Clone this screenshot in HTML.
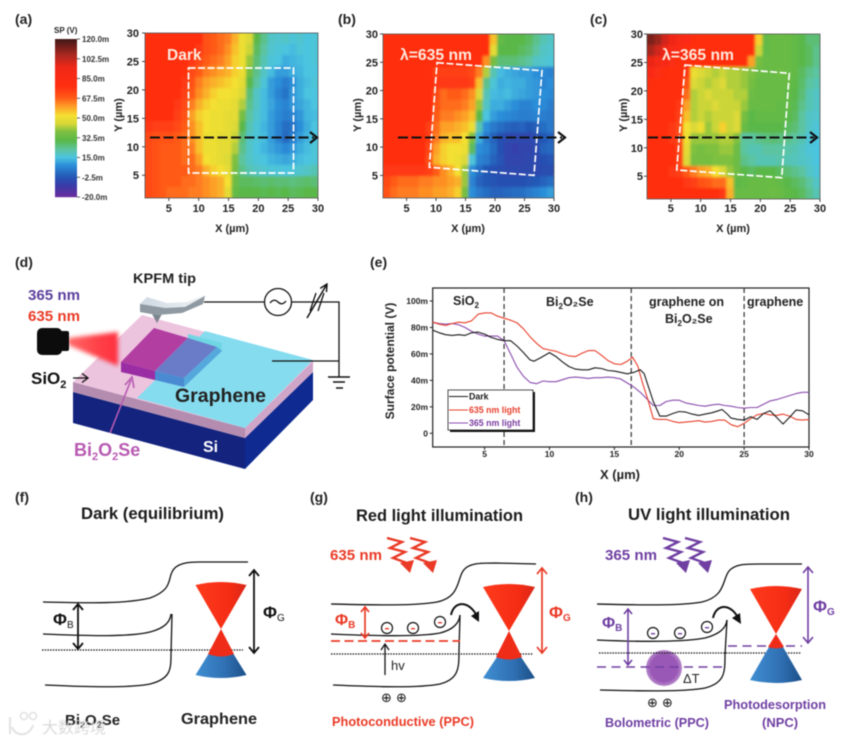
<!DOCTYPE html>
<html lang="en">
<head>
<meta charset="utf-8">
<title>KPFM surface potential figure</title>
<style>
html,body{margin:0;padding:0;background:#fff;width:844px;height:741px;overflow:hidden}
svg{display:block;filter:blur(0.45px)}
text{font-family:"Liberation Sans","Noto Sans CJK SC",sans-serif}
.pl{font-size:14px;font-weight:bold;fill:#222}
.tk{font-size:11px;font-weight:bold;fill:#222}
.ttl{font-size:16.5px;font-weight:bold;fill:#1c1c1c}
</style>
</head>
<body>
<svg id="fig" xmlns="http://www.w3.org/2000/svg" width="844" height="741" viewBox="0 0 844 741">
<defs>
<filter id="mapBlur" x="-5%" y="-5%" width="110%" height="110%"><feGaussianBlur stdDeviation="1.3"/></filter>
<filter id="softBlur" x="-20%" y="-20%" width="140%" height="140%"><feGaussianBlur stdDeviation="2"/></filter>
<clipPath id="clipA"><rect x="145" y="33" width="173" height="165"/></clipPath>
<clipPath id="clipB"><rect x="383" y="34" width="171" height="164"/></clipPath>
<clipPath id="clipC"><rect x="647" y="34" width="173" height="165"/></clipPath>
<linearGradient id="beam" x1="0" y1="0" x2="1" y2="0"><stop offset="0" stop-color="#ff6a6a"/><stop offset="0.6" stop-color="#ff4048"/><stop offset="1" stop-color="#ff3040"/></linearGradient>
<linearGradient id="blueCone" x1="0" y1="0" x2="1" y2="0"><stop offset="0" stop-color="#3f8fd2"/><stop offset="0.6" stop-color="#2f6fb2"/><stop offset="1" stop-color="#1c4f88"/></linearGradient>
<linearGradient id="redCone" x1="0" y1="0" x2="1" y2="0"><stop offset="0" stop-color="#ff3a1c"/><stop offset="0.7" stop-color="#f42c14"/><stop offset="1" stop-color="#d8281a"/></linearGradient>
<linearGradient id="tipTop" x1="0" y1="0" x2="1" y2="0"><stop offset="0" stop-color="#cfd9e2"/><stop offset="1" stop-color="#eef2f5"/></linearGradient>
<radialGradient id="ballGrad"><stop offset="0.75" stop-color="#9a58b6"/><stop offset="1" stop-color="#b88ccb"/></radialGradient>
<path id="wiggle" d="M0 0 L15 4 L3 10 L18 14 L6 20 L20 25" fill="none" stroke="currentColor" stroke-width="2.4"/>
<path id="wiggleHead" d="M23 35 L13 25 L27 22 Z" fill="currentColor"/>
<marker id="smallHead" viewBox="0 0 10 10" refX="9" refY="5" markerWidth="6" markerHeight="6" orient="auto"><path d="M1 1 L9 5 L1 9" fill="none" stroke="context-stroke" stroke-width="1.6"/></marker>
</defs>
<rect width="844" height="741" fill="#fff"/>

<text class="pl" x="15" y="24">(a)</text>
<text class="pl" x="338" y="24">(b)</text>
<text class="pl" x="590" y="24">(c)</text>
<text class="pl" x="15" y="267">(d)</text>
<text class="pl" x="370" y="267">(e)</text>
<text class="pl" x="15" y="502">(f)</text>
<text class="pl" x="310" y="502">(g)</text>
<text class="pl" x="575" y="502">(h)</text>

<g id="maps"></g>
<g id="colorbar"></g>

<g>
<text x="167" y="60" font-size="15.5" font-weight="bold" fill="#ffe9dd">Dark</text>
<text x="400" y="60" font-size="15.5" font-weight="bold" fill="#ffe9dd" textLength="72" lengthAdjust="spacingAndGlyphs">λ=635 nm</text>
<text x="662" y="60" font-size="15.5" font-weight="bold" fill="#ffe9dd" textLength="72" lengthAdjust="spacingAndGlyphs">λ=365 nm</text>
<polygon points="188.5,68 293.5,68 293.5,173 188.5,173" fill="none" stroke="#fff" stroke-width="1.7" stroke-dasharray="7 2.5"/>
<polygon points="437,62.7 542,70.7 534,175.3 429.3,167.3" fill="none" stroke="#fff" stroke-width="1.7" stroke-dasharray="7 2.5"/>
<polygon points="685,65 789.3,73.3 781.7,177.7 676.7,170" fill="none" stroke="#fff" stroke-width="1.7" stroke-dasharray="7 2.5"/>
<g stroke="#111" fill="none">
<path d="M150 137.5 H314" stroke-width="2" stroke-dasharray="10 3.5"/><path d="M310 132 L317 137.5 L310 143" stroke-width="2.2"/>
<path d="M398 137.5 H562" stroke-width="2" stroke-dasharray="10 3.5"/><path d="M558 132 L565 137.5 L558 143" stroke-width="2.2"/>
<path d="M648 137.5 H814" stroke-width="2" stroke-dasharray="10 3.5"/><path d="M810 132 L817 137.5 L810 143" stroke-width="2.2"/>
</g>
</g>

<g>
<polygon points="73,392 245,438 245,469 73,423" fill="#13237e"/>
<polygon points="245,438 313,372 313,400 245,469" fill="#0f2a90"/>
<polygon points="73,382 245,428 245,438 73,392" fill="#b48cb0"/>
<polygon points="245,428 313,361 313,372 245,438" fill="#cfa5c8"/>
<polygon points="73,382 142,315 313,361 245,428" fill="#ecc4de"/>
<polygon points="205,331 313,360 245,428 137,398" fill="#86dcef"/>
<polygon points="68,338 118,332 118,366 68,345" fill="url(#beam)" filter="url(#softBlur)"/>
<polygon points="154,328 188,338 155,371 121,362" fill="#b23ea2"/>
<polygon points="121,362 155,371 155,380 121,372" fill="#9a2ca4"/>
<polygon points="188,334 222,343 222,351 217,347 188,338" fill="#6fd6e4"/>
<polygon points="188,338 217,347 184,378 155,371" fill="#6a7cc8"/>
<polygon points="155,371 184,378 184,387 155,380" fill="#4a8ad2"/>
<polygon points="217,347 222,351 184,387 184,378" fill="#55a8dc"/>
<g><rect x="37" y="328" width="25" height="27" rx="5" fill="#0c0c0c"/><rect x="58" y="331" width="11" height="20" rx="2" fill="#0c0c0c"/></g>
<g>
<polygon points="152,314 162,314 157,323" fill="#7b858d"/>
<polygon points="140,304 147,297 167,303 187,302 205,295 203,304 182,313 157,315 140,312" fill="url(#tipTop)"/>
<polygon points="140,304 165,308 185,307 205,296 203,304 182,313 157,315 140,312" fill="#8f99a1"/>
</g>
<g fill="none" stroke="#111" stroke-width="1.3">
<path d="M204 302 H264 M292 302 H339 V377 M272 361 H339"/>
<circle cx="278" cy="302" r="13.5" fill="#fff"/>
<path d="M270 303 Q274 298 278 302 T286 301"/>
<path d="M310 311 L316 293 M318 311 L324 293"/>
<path d="M307 318 L327 284" marker-end="url(#smallHead)" stroke-width="1.5"/>
<path d="M328 377 H350 M333 382 H345 M336 388 H343" stroke-width="1.5"/>
</g>
<text x="133" y="283" font-size="14" font-weight="bold" fill="#222" textLength="63" lengthAdjust="spacingAndGlyphs">KPFM tip</text>
<text x="28" y="300" font-size="14.5" font-weight="bold" fill="#5b3f9c" textLength="52" lengthAdjust="spacingAndGlyphs">365 nm</text>
<text x="28" y="321" font-size="14.5" font-weight="bold" fill="#ea3a26" textLength="52" lengthAdjust="spacingAndGlyphs">635 nm</text>
<text x="31" y="384" font-size="17" font-weight="bold" fill="#111">SiO<tspan font-size="11" dy="4">2</tspan></text>
<path d="M73 378 H87 M82 373.5 L88 378 L82 382.5" fill="none" stroke="#111" stroke-width="1.3"/>
<text x="175" y="402" font-size="19.5" font-weight="bold" fill="#222" textLength="91" lengthAdjust="spacingAndGlyphs">Graphene</text>
<text x="203" y="452" font-size="16" font-weight="bold" fill="#fff">Si</text>
<text x="74" y="456" font-size="18" font-weight="bold" fill="#b85ab2">Bi<tspan font-size="11" dy="4">2</tspan><tspan dy="-4">O</tspan><tspan font-size="11" dy="4">2</tspan><tspan dy="-4">Se</tspan></text>
<path d="M110 433 L131 380 M125 385 L132 377 L134 388" fill="none" stroke="#b85ab2" stroke-width="1.6"/>
</g>

<g id="profile"></g>

<g>
<text class="ttl" x="81" y="519" textLength="143" lengthAdjust="spacingAndGlyphs">Dark (equilibrium)</text>
<g fill="none" stroke="#111" stroke-width="1.3">
<path d="M43 602 C90 603 125 604 150 598 C172 590 168 580 172 572 C176 563 188 562 200 562 L248 562"/>
<path d="M43 634 C90 636 130 637 150 632 C165 628 170 622 171 614"/>
<path d="M45 685 C90 687 130 688 150 684 C170 679 171 670 171 655 L172 614"/>
<path d="M42 650 H243" stroke-dasharray="1.5 1.2" stroke-width="1.2"/>
</g>
<g stroke="#111" stroke-width="1.8" fill="none">
<path d="M78 604 V649 M73 610 L78 604 L83 610 M73 643 L78 649 L83 643"/>
<path d="M254 570 V653 M249 576 L254 570 L259 576 M249 647 L254 653 L259 647"/>
</g>
<text x="53" y="625" font-size="17" font-weight="bold" fill="#111">Φ<tspan font-size="10" dy="3" font-weight="normal">B</tspan></text>
<text x="263" y="618" font-size="17" font-weight="bold" fill="#111">Φ<tspan font-size="10" dy="3" font-weight="normal">G</tspan></text>
<g>
<path d="M195.5 675 L208.5 654 H233.5 L246.5 675 Q221 681 195.5 675 Z" fill="url(#blueCone)"/>
<path d="M221 629 L208 654 Q221 659 234 654 Z" fill="#ef2c18"/>
<path d="M195.5 585 Q221 579 246.5 585 L221 629 Z" fill="url(#redCone)"/>
</g>
<text x="65" y="725" font-size="15" font-weight="bold" fill="#222">Bi<tspan font-size="9" dy="3">2</tspan><tspan dy="-3">O</tspan><tspan font-size="9" dy="3">2</tspan><tspan dy="-3">Se</tspan></text>
<text x="181" y="724" font-size="16" font-weight="bold" fill="#222" textLength="76" lengthAdjust="spacingAndGlyphs">Graphene</text>
</g>

<g>
<text class="ttl" x="356" y="521" textLength="167" lengthAdjust="spacingAndGlyphs">Red light illumination</text>
<text x="330" y="560" font-size="14.5" font-weight="bold" fill="#ea3a26" textLength="52" lengthAdjust="spacingAndGlyphs">635 nm</text>
<g color="#ea3a26">
<use href="#wiggle" x="387" y="538"/><use href="#wiggleHead" x="387" y="538"/>
<use href="#wiggle" x="410" y="538"/><use href="#wiggleHead" x="410" y="538"/>
</g>
<g fill="none" stroke="#111" stroke-width="1.3">
<path d="M331 604 C375 605 415 606 437 602 C460 597 457 580 463 571 C468 563 480 563 495 563 L536 564"/>
<path d="M331 634 C375 636 420 637 440 633 C452 630 459 624 460 615"/>
<path d="M333 685 C380 687 420 688 440 684 C459 679 459 668 459 650 L460 615"/>
<path d="M331 654 H533" stroke-dasharray="1.5 1.2" stroke-width="1.2"/>
<path d="M385 675 V645 M381 650 L385 644 L389 650"/>
</g>
<path d="M331 641 H460" stroke="#ea3a26" stroke-width="1.8" stroke-dasharray="9 4.5"/>
<text x="391" y="670" font-size="13" fill="#222">hv</text>
<g stroke="#ea3a26" stroke-width="1.7" fill="none">
<path d="M365 607 V638 M361 612 L365 607 L369 612 M361 633 L365 638 L369 633"/>
<path d="M542 568 V653 M537 574 L542 568 L547 574 M537 647 L542 653 L547 647"/>
</g>
<text x="335" y="625" font-size="16" font-weight="bold" fill="#ea3a26">Φ<tspan font-size="10" dy="3">B</tspan></text>
<text x="549" y="618" font-size="17" font-weight="bold" fill="#ea3a26">Φ<tspan font-size="10" dy="3">G</tspan></text>
<g>
<path d="M483 678 L497 657 H521 L535 678 Q509 684 483 678 Z" fill="url(#blueCone)"/>
<path d="M509 631 L496 657 Q509 662 522 657 Z" fill="#ef2c18"/>
<path d="M483 587 Q509 581 535 587 L509 631 Z" fill="url(#redCone)"/>
</g>
<g fill="none" stroke="#111" stroke-width="1.2"><circle cx="387" cy="628" r="5.5"/><circle cx="413" cy="628" r="5.5"/><circle cx="440" cy="622" r="5.5"/></g>
<g fill="#ea3a26"><rect x="385" y="628" width="4" height="1.4"/><rect x="411" y="628" width="4" height="1.4"/><rect x="438" y="622" width="4" height="1.4"/></g>
<path d="M451 615 C454 600 470 600 478 618" fill="none" stroke="#111" stroke-width="2"/>
<path d="M479 622 L471 616 L479 611 Z" fill="#111"/>
<text x="381" y="702" font-size="13" fill="#111" style="font-family:'DejaVu Sans',sans-serif">⊕ ⊕</text>
<text x="332" y="726" font-size="13" font-weight="bold" fill="#ea3a26" textLength="142" lengthAdjust="spacingAndGlyphs">Photoconductive  (PPC)</text>
</g>

<g>
<text class="ttl" x="628" y="520" textLength="162" lengthAdjust="spacingAndGlyphs">UV light illumination</text>
<text x="605" y="560" font-size="14.5" font-weight="bold" fill="#6f3fa2" textLength="52" lengthAdjust="spacingAndGlyphs">365 nm</text>
<g color="#6f3fa2">
<use href="#wiggle" x="663" y="538"/><use href="#wiggleHead" x="663" y="538"/>
<use href="#wiggle" x="685" y="538"/><use href="#wiggleHead" x="685" y="538"/>
</g>
<circle cx="664" cy="668" r="18" fill="url(#ballGrad)"/>
<g fill="none" stroke="#111" stroke-width="1.3">
<path d="M597 604 C640 605 680 606 702 602 C726 596 722 580 729 571 C735 564 745 564 760 564 L802 564"/>
<path d="M597 640 C640 642 685 642 705 638 C720 634 726 628 727 620"/>
<path d="M600 690 C640 691 685 692 705 688 C725 683 725 672 725 655 L727 620"/>
<path d="M599 653 H801" stroke-dasharray="1.5 1.2" stroke-width="1.2"/>
</g>
<g stroke="#6f3fa2" stroke-width="1.6" fill="none">
<path d="M597 667 H726" stroke-dasharray="9 5.5"/>
<path d="M728 646 H802" stroke-dasharray="9 5.5"/>
<path d="M628 609 V665 M624 614 L628 609 L632 614 M624 660 L628 665 L632 660"/>
<path d="M808 567 V643 M803 573 L808 567 L813 573 M803 637 L808 643 L813 637"/>
</g>
<text x="683" y="683" font-size="13" fill="#222">ΔT</text>
<text x="602" y="628" font-size="16" font-weight="bold" fill="#6f3fa2">Φ<tspan font-size="10" dy="3">B</tspan></text>
<text x="813" y="612" font-size="17" font-weight="bold" fill="#6f3fa2">Φ<tspan font-size="10" dy="3">G</tspan></text>
<g>
<path d="M750 680 L769 647 H783 L802 680 Q776 686 750 680 Z" fill="url(#blueCone)"/>
<path d="M776 634 L768 647 Q776 650 784 647 Z" fill="#ef2c18"/>
<path d="M750 589 Q776 583 802 589 L776 634 Z" fill="url(#redCone)"/>
</g>
<g fill="none" stroke="#111" stroke-width="1.2"><circle cx="653" cy="633" r="5.5"/><circle cx="680" cy="633" r="5.5"/><circle cx="707" cy="627" r="5.5"/></g>
<g fill="#6f3fa2"><rect x="651" y="633" width="4" height="1.4"/><rect x="678" y="633" width="4" height="1.4"/><rect x="705" y="627" width="4" height="1.4"/></g>
<path d="M713 618 C716 603 732 603 739 620" fill="none" stroke="#111" stroke-width="2"/>
<path d="M741 624 L732 618 L740 613 Z" fill="#111"/>
<text x="647" y="707" font-size="13" fill="#111" style="font-family:'DejaVu Sans',sans-serif">⊕ ⊕</text>
<text x="605" y="727" font-size="13" font-weight="bold" fill="#6f3fa2" textLength="104" lengthAdjust="spacingAndGlyphs">Bolometric  (PPC)</text>
<text x="724" y="709" font-size="12.5" font-weight="bold" fill="#6f3fa2" textLength="102" lengthAdjust="spacingAndGlyphs">Photodesorption</text>
<text x="762" y="727" font-size="13" font-weight="bold" fill="#6f3fa2">(NPC)</text>
</g>

<g opacity="0.85">
<path d="M10 717 V734 M12 727 C16 738 30 736 33 725" fill="none" stroke="#ddd" stroke-width="2"/>
<circle cx="24" cy="716" r="3.5" fill="none" stroke="#ddd" stroke-width="1.6"/>
<circle cx="33" cy="716" r="3.5" fill="none" stroke="#ddd" stroke-width="1.6"/>
<text x="42" y="733" font-size="16" fill="#d4d4d4" style="font-family:'Liberation Sans','Noto Sans CJK SC',sans-serif">大数跨境</text>
</g>
</svg>

<script>
// Heatmap matrices: surface potential in mV, rows from Y≈29 µm down to Y≈2 µm, columns X≈1.6 to 29.4 µm
const darkMap = [
[78,78,78,78,78,78,78,78,70,68,66,64,58,50,46,30,24,18,17,18,16,17,15,16],
[78,78,78,78,78,78,78,76,70,68,66,62,56,50,44,28,22,17,16,15,14,16,15,16],
[78,78,78,78,78,78,76,72,68,66,64,60,54,50,40,26,20,16,15,12,13,14,15,16],
[78,78,78,78,78,77,72,68,64,62,60,58,54,50,36,24,18,14,10,10,12,13,15,15],
[78,78,78,78,78,76,70,64,60,58,56,54,52,48,30,22,16,10,8,5,8,12,14,16],
[78,78,78,78,78,74,68,62,58,54,52,52,50,46,26,18,14,10,6,3,9,12,15,15],
[78,78,78,78,76,72,64,58,54,52,50,50,48,42,24,18,14,11,8,6,9,11,13,15],
[78,78,78,78,74,70,60,54,52,50,50,48,48,36,22,17,14,10,7,5,6,9,13,14],
[76,74,74,74,72,68,62,56,52,50,50,48,46,30,20,16,13,10,6,2,3,8,12,15],
[72,70,70,70,68,66,62,56,50,50,48,48,44,26,18,16,14,10,6,1,5,10,13,15],
[72,70,68,68,68,66,64,56,50,50,48,48,42,24,18,15,13,11,9,7,9,12,14,16],
[72,70,68,68,68,66,66,60,52,50,48,46,38,22,18,16,15,13,12,11,12,14,15,16],
[72,70,68,68,68,68,66,64,58,54,52,48,36,24,20,18,17,16,16,15,16,17,18,20],
[72,70,68,68,68,66,66,64,62,60,58,52,34,28,28,27,26,27,26,26,25,26,27,26],
[72,70,68,66,66,66,64,64,62,60,58,48,32,30,30,30,29,30,29,30,28,29,30,30]
];
const redMap = [
[78,78,78,78,78,78,78,78,78,78,78,78,78,78,78,56,32,30,30,30,28,24,20,18],
[78,78,78,78,78,78,78,78,78,78,78,78,78,78,78,48,30,30,30,28,26,22,18,17],
[78,78,78,78,78,78,78,78,78,78,78,78,78,78,62,36,26,26,26,24,22,18,17,16],
[78,78,78,78,78,78,78,74,74,74,74,74,72,64,42,20,14,12,11,10,10,8,7,6],
[78,78,78,78,78,78,78,76,76,76,76,76,74,56,24,16,12,13,12,12,10,9,6,8],
[78,78,78,78,78,78,78,72,66,68,68,66,62,46,20,14,13,14,12,11,10,9,8,7],
[78,78,78,78,78,78,78,70,66,66,66,64,60,40,18,12,12,10,8,6,6,8,7,5],
[78,78,78,78,78,78,78,68,64,64,62,60,56,30,15,10,8,7,6,5,5,6,5,4],
[78,78,78,78,78,78,74,66,60,60,58,56,50,20,8,4,2,0,-1,0,-2,-1,2,4],
[78,78,78,78,78,78,74,64,58,56,56,52,38,12,4,0,-4,-6,-6,-6,-6,-5,-2,0],
[78,78,78,78,78,78,72,60,54,52,52,50,28,8,6,2,-4,-7,-8,-7,-7,-6,0,1],
[78,78,78,78,78,78,70,58,54,52,50,46,16,6,4,0,-3,-7,-7,-7,-6,-6,-4,-3],
[76,76,76,76,76,76,74,68,62,58,52,40,8,2,-2,-4,-5,-6,-6,-6,-6,-6,-5,-5],
[72,68,66,66,66,64,64,62,62,60,58,40,6,0,-2,-3,-4,-4,-4,-4,-3,-2,0,2],
[70,66,64,64,64,62,62,60,60,58,54,36,8,4,2,0,0,1,2,2,4,6,8,10]
];
const uvMap = [
[112,108,100,94,88,84,80,78,78,78,78,78,78,78,78,54,32,33,33,33,32,30,26,26],
[106,100,94,88,84,80,78,78,78,78,78,78,78,78,78,44,32,33,33,33,32,30,28,24],
[96,90,86,82,78,78,78,78,78,78,78,78,78,78,60,36,33,33,33,33,32,30,28,24],
[86,82,80,78,78,76,50,46,44,42,44,42,42,40,38,34,33,33,34,33,32,28,24,22],
[80,78,78,78,78,70,46,44,42,44,46,42,42,40,36,33,33,33,33,33,31,27,22,20],
[78,78,78,78,78,66,42,44,46,44,44,44,42,42,34,33,33,33,33,32,30,26,20,18],
[78,78,78,78,76,60,42,44,44,46,44,44,44,40,33,33,33,33,32,32,29,24,20,18],
[78,78,78,78,74,56,42,44,42,44,44,44,46,36,30,32,32,32,32,30,28,22,18,17],
[78,78,78,76,72,52,46,50,40,44,54,44,46,33,30,30,30,30,30,28,26,22,18,16],
[78,78,78,76,72,50,40,40,40,40,42,42,38,22,22,24,25,26,25,24,22,20,16,15],
[78,78,78,78,74,48,38,36,38,38,40,40,34,22,20,20,22,22,22,21,20,18,16,15],
[78,78,78,78,74,46,36,36,36,38,38,38,34,24,22,20,20,20,21,20,19,18,17,15],
[78,78,78,76,74,68,64,60,58,52,46,40,34,30,28,30,30,30,28,26,24,22,18,16],
[78,78,78,78,78,76,74,70,68,66,66,56,31,32,33,33,33,33,32,30,28,26,22,18],
[78,78,78,78,78,78,78,78,78,78,76,58,33,33,33,33,33,34,33,31,30,28,24,20]
];
const mapTicks = [5,10,15,20,25,30];
const colorbarLabels = ["120.0m","102.5m","85.0m","67.5m","50.0m","32.5m","15.0m","-2.5m","-20.0m"];
const colorbarValues = [120,102.5,85,67.5,50,32.5,15,-2.5,-20];

// Line profile data (X in µm, surface potential in mV)
const darkX = [1,1.5,2,2.5,3,3.5,4,4.5,5,5.5,6,6.5,7,7.5,8,8.5,8.8,9.3,10,10.5,11,11.5,12,12.5,13,13.5,14,14.5,15,15.5,16,16.5,17,17.3,17.6,18,18.5,19,19.5,20,20.5,21,21.5,22,22.5,23,23.3,23.7,24,24.5,25,25.5,26,26.5,27,27.5,28,28.5,29,29.5,30];
const darkV = [78,76,74.5,74,74.5,74,76,76.5,75,72.5,71,70,70,66,61,55.5,54.5,57,61,58,54,50.5,48.5,48,48,49.5,49,47.5,47,46,45,46,48,45,36,24,13,13,15,16.5,16,14.5,13.5,14.5,15.5,17,18,14.5,11.5,10.5,10,12.5,10.5,15,17,12,7,12,17.5,17,14];
const redX = [1,1.5,2,2.5,3,3.5,4,4.5,5,5.5,6,6.5,7,7.5,8,8.5,9,9.5,10,10.5,11,11.5,12,12.5,13,13.5,14,14.5,15,15.5,16,16.4,16.8,17.2,17.6,18,18.4,19,19.5,20,20.5,21,21.5,22,22.5,23,23.5,24,24.5,25,25.5,26,26.5,27,27.5,28,28.5,29,29.5,30];
const redV = [84,82.5,81.5,83,84,83.5,85,90,91,91,88.5,87,85.5,83.5,79,73,68,64,63,62,60,58.5,58,60.5,62.5,62.5,59,55,52.5,52,54.5,57.5,51,37,25,11,10.5,10.5,9,8,8.5,9,9.5,8.5,9,10,10,6.5,5,7.5,11,14,15,14,13.5,14.5,13,10.5,10,10.5];
const uvX = [1,1.5,2,2.5,3,3.5,4,4.5,5,5.5,6,6.5,7,7.5,8,8.5,9,9.5,10,10.5,11,11.5,12,12.5,13,13.5,14,14.5,15,15.5,16,16.5,17,17.5,18,18.5,19,19.5,20,20.5,21,21.5,22,22.5,23,23.5,24,24.5,25,25.5,26,26.5,27,27.5,28,28.5,29,29.5,30];
const uvV = [84,83,82.5,83,82,80,77,75,73.5,73.5,73.5,70,60,50,43,38.5,37.5,39.5,39,39,40.5,42,42.5,42,41.5,42,42,42.5,42,41,38,35,31,26,21,21,24,25,25,23,22,21,20.5,21.5,22,21,20.5,19.5,19,19.5,19.5,22,24.5,25.5,27,28.5,30,31,31];
const profileXTicks = [5,10,15,20,25,30];
const profileYTicks = [0,20,40,60,80,100];
const profileYLabels = ["0","20m","40m","60m","80m","100m"];
const regionBoundaries = [6.5,16.3,25];
const legendEntries = ["Dark","635 nm  light","365 nm  light"];

const NS = 'http://www.w3.org/2000/svg';
function add(parent, tag, attrs, text) {
  const e = document.createElementNS(NS, tag);
  for (const k in attrs) e.setAttribute(k, attrs[k]);
  if (text != null) e.textContent = text;
  parent.appendChild(e);
  return e;
}
const cmStops = [[-20,[106,44,156]],[-10,[58,58,168]],[-2.5,[36,86,180]],[8,[44,142,216]],[15,[76,196,224]],[22,[92,196,160]],[30,[90,184,72]],[38,[126,192,64]],[45,[216,216,56]],[52,[244,224,48]],[60,[252,160,40]],[68,[255,90,24]],[78,[255,46,16]],[95,[240,40,24]],[105,[176,40,32]],[120,[64,24,24]]];
function colorOf(v) {
  if (v <= cmStops[0][0]) v = cmStops[0][0];
  for (let i = 1; i < cmStops.length; i++) {
    if (v <= cmStops[i][0]) {
      const a = cmStops[i-1], b = cmStops[i], t = (v-a[0])/(b[0]-a[0]);
      return 'rgb(' + a[1].map((c,j) => Math.round(c+(b[1][j]-c)*t)).join(',') + ')';
    }
  }
  return 'rgb(64,24,24)';
}

function drawMap(id, matrix, box, yLabelX, yTitleX, xTitleX, clip) {
  const root = document.getElementById('maps');
  const g = add(root, 'g', {});
  
  
  const clipG = add(g, 'g', {'clip-path': 'url(#' + clip + ')'});
  
  
  const cells = add(clipG, 'g', {filter: 'url(#mapBlur)'});
  
  
  const nRows = matrix.length, nCols = matrix[0].length;
  const cw = box.w / nCols, ch = box.h / nRows;
  matrix.forEach((row, r) => row.forEach((v, c) => {
    const x0 = box.x + c * cw - (c === 0 ? 4 : 0);
    const x1 = box.x + (c + 1) * cw + (c === nCols - 1 ? 4 : 0.5);
    const y0 = box.y + r * ch - (r === 0 ? 4 : 0);
    const y1 = box.y + (r + 1) * ch + (r === nRows - 1 ? 4 : 0.5);
    const cell = add(cells, 'rect', {x: x0, y: y0, width: x1 - x0, height: y1 - y0, fill: colorOf(v)});
    
    
  }));
  const xs = v => box.x + (v - 1) * box.w / 29;
  const ys = v => box.y + (30 - v) * box.h / 29;
  const frame = add(g, 'rect', {x: box.x, y: box.y, width: box.w, height: box.h, fill: 'none', stroke: '#555', 'stroke-width': 0.8});
  
  
  mapTicks.forEach(t => {
    const tx = add(g, 'line', {x1: xs(t), x2: xs(t), y1: box.y + box.h, y2: box.y + box.h + 3, stroke: '#333', 'stroke-width': 0.9});
    
    
    const ty = add(g, 'line', {x1: box.x - 3, x2: box.x, y1: ys(t), y2: ys(t), stroke: '#333', 'stroke-width': 0.9});
    
    
    const lx = add(g, 'text', {class: 'tk', x: xs(t), y: 212, 'text-anchor': 'middle'}, String(t));
    
    
    const ly = add(g, 'text', {class: 'tk', x: yLabelX, y: ys(t) + 4, 'text-anchor': 'end'}, String(t));
    
    
  });
  const xt = add(g, 'text', {x: xTitleX, y: 232, 'text-anchor': 'middle', 'font-size': 11, 'font-weight': 'bold', fill: '#222'}, 'X (µm)');
  
  
  const yt = add(g, 'text', {x: yTitleX, y: 115, 'text-anchor': 'middle', 'font-size': 11, 'font-weight': 'bold', fill: '#222', transform: 'rotate(-90 ' + yTitleX + ' 115)'}, 'Y (µm)');
  
  
}
drawMap('dark', darkMap, {x:145,y:33,w:173,h:165}, 139, 122, 232, 'clipA');
drawMap('635nm', redMap, {x:383,y:34,w:171,h:164}, 378, 361, 468, 'clipB');
drawMap('365nm', uvMap, {x:647,y:34,w:173,h:165}, 643, 627, 733, 'clipC');

// Colorbar
(function () {
  const g = document.getElementById('colorbar');
  const top = 39, bottom = 197, left = 55, width = 22;
  const cbY = v => top + (120 - v) * (bottom - top) / 140;
  for (let y = top; y < bottom; y++) {
    const v = 120 - (y + 0.5 - top) * 140 / (bottom - top);
    const strip = add(g, 'rect', {x: left, y: y, width: width, height: 1.2, fill: colorOf(v)});
    
    
  }
  const title = add(g, 'text', {x: 54, y: 33, 'font-size': 8, 'font-weight': 'bold', fill: '#222'}, 'SP (V)');
  
  
  colorbarValues.forEach((v, i) => {
    const tick = add(g, 'line', {x1: left + width, x2: left + width + 3, y1: cbY(v), y2: cbY(v), stroke: '#333', 'stroke-width': 0.8});
    
    
    const lab = add(g, 'text', {x: 82, y: cbY(v) + 3, 'font-size': 8, 'font-weight': 'bold', fill: '#333'}, colorbarLabels[i]);
    
    
  });
})();

// Surface potential line chart
(function () {
  const g = document.getElementById('profile');
  const L = 432.7, R = 809, T = 288, B = 447;
  const xScale = v => L + (v - 1) * (R - L) / 29;
  const yScale = v => 433.3 - v * 1.323;
  const frame = add(g, 'rect', {x: L, y: T, width: R - L, height: B - T, fill: 'none', stroke: '#222', 'stroke-width': 1.2});
  
  
  profileXTicks.forEach(t => {
    const tick = add(g, 'line', {x1: xScale(t), x2: xScale(t), y1: B, y2: B + 3, stroke: '#222'});
    
    
    const lab = add(g, 'text', {x: xScale(t), y: 457, 'text-anchor': 'middle', 'font-size': 8.5, 'font-weight': 'bold', fill: '#222'}, String(t));
    
    
  });
  profileYTicks.forEach((t, i) => {
    const tick = add(g, 'line', {x1: L - 3, x2: L, y1: yScale(t), y2: yScale(t), stroke: '#222'});
    
    
    const lab = add(g, 'text', {x: 428, y: yScale(t) + 3, 'text-anchor': 'end', 'font-size': 8.5, 'font-weight': 'bold', fill: '#222'}, profileYLabels[i]);
    
    
  });
  regionBoundaries.forEach(b => {
    const ln = add(g, 'line', {x1: xScale(b), x2: xScale(b), y1: T, y2: B, stroke: '#333', 'stroke-width': 1.2, 'stroke-dasharray': '5 3'});
    
    
  });
  const pathOf = (xs, vs) => xs.map((x, i) => (i ? 'L' : 'M') + xScale(x).toFixed(1) + ' ' + yScale(vs[i]).toFixed(1)).join(' ');
  const uvLine = add(g, 'path', {d: pathOf(uvX, uvV), fill: 'none', stroke: '#8a4cae', 'stroke-width': 1.1, 'stroke-linejoin': 'round'});
  
  
  const redLine = add(g, 'path', {d: pathOf(redX, redV), fill: 'none', stroke: '#e8402c', 'stroke-width': 1.1, 'stroke-linejoin': 'round'});
  
  
  const darkLine = add(g, 'path', {d: pathOf(darkX, darkV), fill: 'none', stroke: '#1a1a1a', 'stroke-width': 1.1, 'stroke-linejoin': 'round'});
  
  

  const regionLabels = [
    ['SiO', '2', '', 453, 305, 'region-sio2'],
    ['Bi', '2', 'O₂Se', 546, 306, 'region-bi2o2se'],
    ['graphene on', '', '', 649, 306, 'region-graphene-on-bi2o2se'],
    ['Bi', '2', 'O₂Se', 665, 323, 'region-bi2o2se-second-line'],
    ['graphene', '', '', 747, 306, 'region-graphene']
  ];
  regionLabels.forEach(r => {
    const t = add(g, 'text', {x: r[3], y: r[4], 'font-size': 12.5, 'font-weight': 'bold', fill: '#222'}, r[0]);
    if (r[1]) add(t, 'tspan', {'font-size': 8, dy: 3}, r[1]);
    if (r[2]) add(t, 'tspan', {dy: -3}, r[2]);
    
    
  });

  const yTitle = add(g, 'text', {x: 394, y: 361, 'text-anchor': 'middle', 'font-size': 12, 'font-weight': 'bold', fill: '#222', transform: 'rotate(-90 394 361)'}, 'Surface potential (V)');
  
  
  const xTitle = add(g, 'text', {x: 620, y: 479, 'text-anchor': 'middle', 'font-size': 13, 'font-weight': 'bold', fill: '#222'}, 'X (µm)');
  
  

  const lg = add(g, 'g', {});
  
  
  const shadow = add(lg, 'rect', {x: 450, y: 392, width: 85, height: 40, fill: '#111'});
  
  
  const boxEl = add(lg, 'rect', {x: 448, y: 390, width: 85, height: 40, fill: '#fff', stroke: '#222', 'stroke-width': 0.8});
  
  
  const legendColors = ['#1a1a1a', '#e8402c', '#8a4cae'];
  const legendTextColors = ['#1a1a1a', '#e8402c', '#7a3ca0'];
  const legendYs = [396.5, 410, 423];
  legendEntries.forEach((name, i) => {
    const ln = add(lg, 'line', {x1: 449, x2: 468, y1: legendYs[i], y2: legendYs[i], stroke: legendColors[i], 'stroke-width': 1.1});
    
    
    const tx = add(lg, 'text', {x: 469, y: legendYs[i] + 3, 'font-size': 8.8, 'font-weight': 'bold', fill: legendTextColors[i]}, name);
    
    
  });
})();
</script>
</body>
</html>
